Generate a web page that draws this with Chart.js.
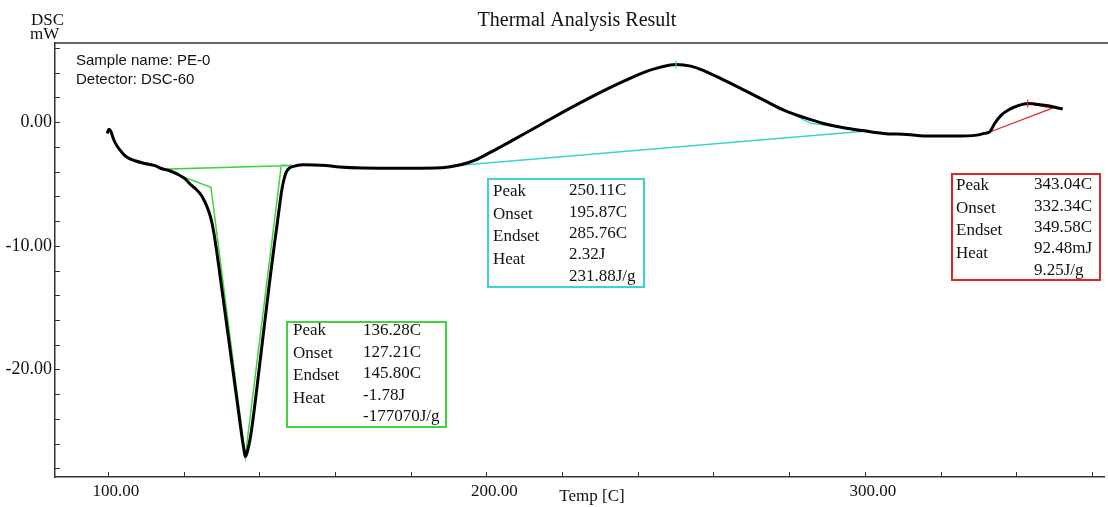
<!DOCTYPE html>
<html>
<head>
<meta charset="utf-8">
<title>Thermal Analysis Result</title>
<script src="https://cdn.jsdelivr.net/npm/chart.js@4.4.1/dist/chart.umd.min.js"></script>
<style>
  html, body { margin: 0; padding: 0; background: #fff; }
  #wrap { width: 1108px; height: 507px; }
</style>
</head>
<body>
<div id="wrap"><canvas id="dscChart" width="1108" height="507"></canvas></div>
<script>
// DSC curve, temperature [C] vs heat flow [mW]
const temp = [99.8, 100.26, 100.8, 101.4, 102.1, 103.2, 104.2, 105.3, 107.1, 109.7,
    112.4, 114.1, 116.3, 118.5, 120.3, 122.0, 123.3, 124.66, 125.53, 126.32,
    127.11, 127.76, 128.42, 129.21, 130.0, 130.79, 131.58, 132.37, 133.16, 133.95,
    134.74, 135.39, 135.92, 136.28, 136.84, 137.63, 138.42, 139.21, 140.0, 140.79,
    141.58, 142.37, 143.16, 143.95, 144.74, 145.39, 145.92, 146.45, 147.11, 147.89,
    148.76, 151.4, 157.6, 161.1, 167.2, 177.7, 186.5, 190.0, 193.5, 197.0,
    200.5, 203.9, 207.6, 213.7, 222.4, 231.3, 236.6, 241.8, 246.05, 250.11,
    254.0, 257.55, 262.8, 268.1, 273.3, 278.6, 283.9, 289.1, 294.4, 299.7,
    304.9, 311.05, 317.1, 324.2, 329.5, 331.6, 333.0, 334.3, 336.05, 338.2,
    340.9, 343.04, 347.0, 350.5, 352.3];
const heatFlow = [-0.92, -0.57, -0.77, -1.32, -1.78, -2.27, -2.63, -2.89, -3.12, -3.34,
    -3.52, -3.75, -3.93, -4.23, -4.57, -5.10, -5.43, -5.91, -6.40, -6.96,
    -7.69, -8.58, -9.80, -11.50, -13.28, -15.06, -16.84, -18.62, -20.40, -22.19,
    -23.97, -25.43, -26.48, -27.05, -26.64, -25.51, -23.81, -21.86, -19.84, -17.81,
    -15.79, -13.77, -11.82, -9.96, -8.18, -6.64, -5.51, -4.70, -4.05, -3.72,
    -3.60, -3.45, -3.51, -3.62, -3.70, -3.72, -3.70, -3.62, -3.43, -3.08,
    -2.53, -1.98, -1.35, -0.31, 1.17, 2.59, 3.36, 4.05, 4.45, 4.66,
    4.53, 4.15, 3.40, 2.59, 1.78, 0.97, 0.38, -0.11, -0.46, -0.70,
    -0.91, -1.0, -1.13, -1.13, -1.05, -0.91, -0.79, -0.11, 0.57, 1.03,
    1.38, 1.51, 1.38, 1.19, 1.05];

// melting peak: baseline and tangent construction
const meltX = [148.8, 114.47, 127.21, 136.28, 145.80, 148.8];
const meltY = [-3.50, -3.81, -5.26, -27.05, -3.48, -3.50];

// exothermic peak: baseline, onset tangent, endset tangent
const crystBaseX = [301.3, 190.0, 195.87, 202.0];
const crystBaseY = [-0.70, -3.56, -3.25, -2.35];
const crystEndX = [268.1, 285.76, 301.3];
const crystEndY = [2.59, -0.10, -0.70];

// last small peak
const decompX = [332.34, 349.58, 343.04];
const decompY = [-0.88, 1.13, 1.51];

// peak temperatures marked on the curve
const peakMarks = [{ t: 250.11, v: 4.66, color: '#3cd2d2' }, { t: 343.04, v: 1.51, color: '#e0262a' }];

// result tables
const rowNames = ['Peak', 'Onset', 'Endset', 'Heat'];
const meltValues = ['136.28C', '127.21C', '145.80C', '-1.78J', '-177070J/g'];
const crystValues = ['250.11C', '195.87C', '285.76C', '2.32J', '231.88J/g'];
const decompValues = ['343.04C', '332.34C', '349.58C', '92.48mJ', '9.25J/g'];

const infoLines = ['Sample name: PE-0', 'Detector: DSC-60'];

const serif = '"Liberation Serif", "Times New Roman", serif';
const sans = '"Liberation Sans", Arial, sans-serif';

function toPoints(xs, ys) {
    return xs.map((x, i) => ({ x: x, y: ys[i] }));
}

function lineSet(xs, ys, color, width) {
    return {
        data: toPoints(xs, ys),
        showLine: true,
        borderColor: color,
        borderWidth: width,
        pointRadius: 0,
        tension: 0
    };
}

const tables = [
    { values: meltValues, color: '#3fd43f', box: [287, 322, 159, 105], labX: 293, valX: 363, labY: 331, valY: 331, labStep: 22.5, valStep: 21.4 },
    { values: crystValues, color: '#3cd2d2', box: [488, 179, 156, 108], labX: 493, valX: 569, labY: 192, valY: 191, labStep: 22.5, valStep: 21.3 },
    { values: decompValues, color: '#e0262a', box: [952, 174, 148, 106], labX: 956, valX: 1034, labY: 186, valY: 185, labStep: 22.4, valStep: 21.3 }
];

const decorations = {
    id: 'decorations',
    afterDraw(chart) {
        const ctx = chart.ctx;
        const area = chart.chartArea;
        const xs = chart.scales.x;
        const ys = chart.scales.y;

        ctx.save();
        ctx.strokeStyle = '#333';
        ctx.lineWidth = 1.5;

        // frame line along the top
        ctx.beginPath();
        ctx.moveTo(area.left, area.top);
        ctx.lineTo(1108, area.top);
        ctx.stroke();

        // tick marks pointing into the plot
        ctx.lineWidth = 1;
        ctx.beginPath();
        for (let v = -28; v <= 6; v += 2) {
            const py = Math.round(ys.getPixelForValue(v)) + 0.5;
            ctx.moveTo(area.left, py);
            ctx.lineTo(area.left + 5, py);
        }
        for (let t = 100; t <= 360; t += 20) {
            const px = Math.round(xs.getPixelForValue(t)) + 0.5;
            ctx.moveTo(px, area.bottom);
            ctx.lineTo(px, area.bottom - 5);
        }
        ctx.stroke();

        // small marks at the peak tops
        peakMarks.forEach(m => {
            const px = xs.getPixelForValue(m.t);
            const py = ys.getPixelForValue(m.v);
            ctx.strokeStyle = m.color;
            ctx.lineWidth = 1.2;
            ctx.beginPath();
            ctx.moveTo(px, py - 4);
            ctx.lineTo(px, py + 4);
            ctx.stroke();
        });

        // texts
        ctx.fillStyle = '#111';
        ctx.textBaseline = 'middle';
        ctx.font = '20px ' + serif;
        ctx.textAlign = 'center';
        ctx.fillText('Thermal Analysis Result', 577, 21);

        ctx.font = '17px ' + serif;
        ctx.fillText('Temp [C]', 592, 497);
        ctx.textAlign = 'left';
        ctx.fillText('DSC', 31, 21);
        ctx.fillText('mW', 30, 35);

        ctx.font = '15px ' + sans;
        infoLines.forEach((s, i) => ctx.fillText(s, 76, 61 + i * 18.5));

        // result tables
        ctx.font = '17px ' + serif;
        tables.forEach(tb => {
            ctx.strokeStyle = tb.color;
            ctx.lineWidth = 2;
            ctx.strokeRect(tb.box[0], tb.box[1], tb.box[2], tb.box[3]);
            ctx.fillStyle = '#111';
            rowNames.forEach((name, i) => ctx.fillText(name, tb.labX, tb.labY + i * tb.labStep));
            tb.values.forEach((val, i) => ctx.fillText(val, tb.valX, tb.valY + i * tb.valStep));
        });

        ctx.restore();
    }
};

const ctx = document.getElementById('dscChart');

const dscChart = new Chart(ctx, {
    type: 'scatter',
    data: {
        datasets: [
            {
                data: toPoints(temp, heatFlow),
                showLine: true,
                borderColor: '#000',
                borderWidth: 3,
                pointRadius: 0,
                cubicInterpolationMode: 'monotone'
            },
            lineSet(meltX, meltY, '#3fd43f', 1.5),
            lineSet(crystBaseX, crystBaseY, '#3cd2d2', 1.5),
            lineSet(crystEndX, crystEndY, '#3cd2d2', 1.5),
            lineSet(decompX, decompY, '#e0262a', 1.2)
        ]
    },
    options: {
        responsive: false,
        animation: false,
        layout: {
            padding: { top: 43, right: 0, left: 0, bottom: 0 }
        },
        scales: {
            x: {
                type: 'linear',
                min: 86,
                max: 363.2,
                grid: { display: false, drawTicks: false },
                border: { display: true, color: '#333', width: 1.5 },
                ticks: {
                    stepSize: 20,
                    autoSkip: false,
                    maxRotation: 0,
                    labelOffset: 8,
                    padding: 4,
                    color: '#111',
                    font: { family: serif, size: 17 },
                    callback: function (v) {
                        return Math.abs(v % 100) < 1e-6 ? v.toFixed(2) : '';
                    }
                },
                afterFit: function (scale) {
                    scale.height = 30;
                }
            },
            y: {
                type: 'linear',
                min: -28.7,
                max: 6.4,
                grid: { display: false, drawTicks: false },
                border: { display: true, color: '#333', width: 1.5 },
                ticks: {
                    stepSize: 2,
                    autoSkip: false,
                    padding: 3,
                    color: '#111',
                    font: { family: serif, size: 18 },
                    callback: function (v) {
                        return Math.abs(v % 10) < 1e-6 ? v.toFixed(2) : '';
                    }
                },
                afterFit: function (scale) {
                    scale.width = 55;
                }
            }
        },
        plugins: {
            legend: { display: false },
            tooltip: { enabled: false }
        }
    },
    plugins: [decorations]
});
</script>
</body>
</html>
